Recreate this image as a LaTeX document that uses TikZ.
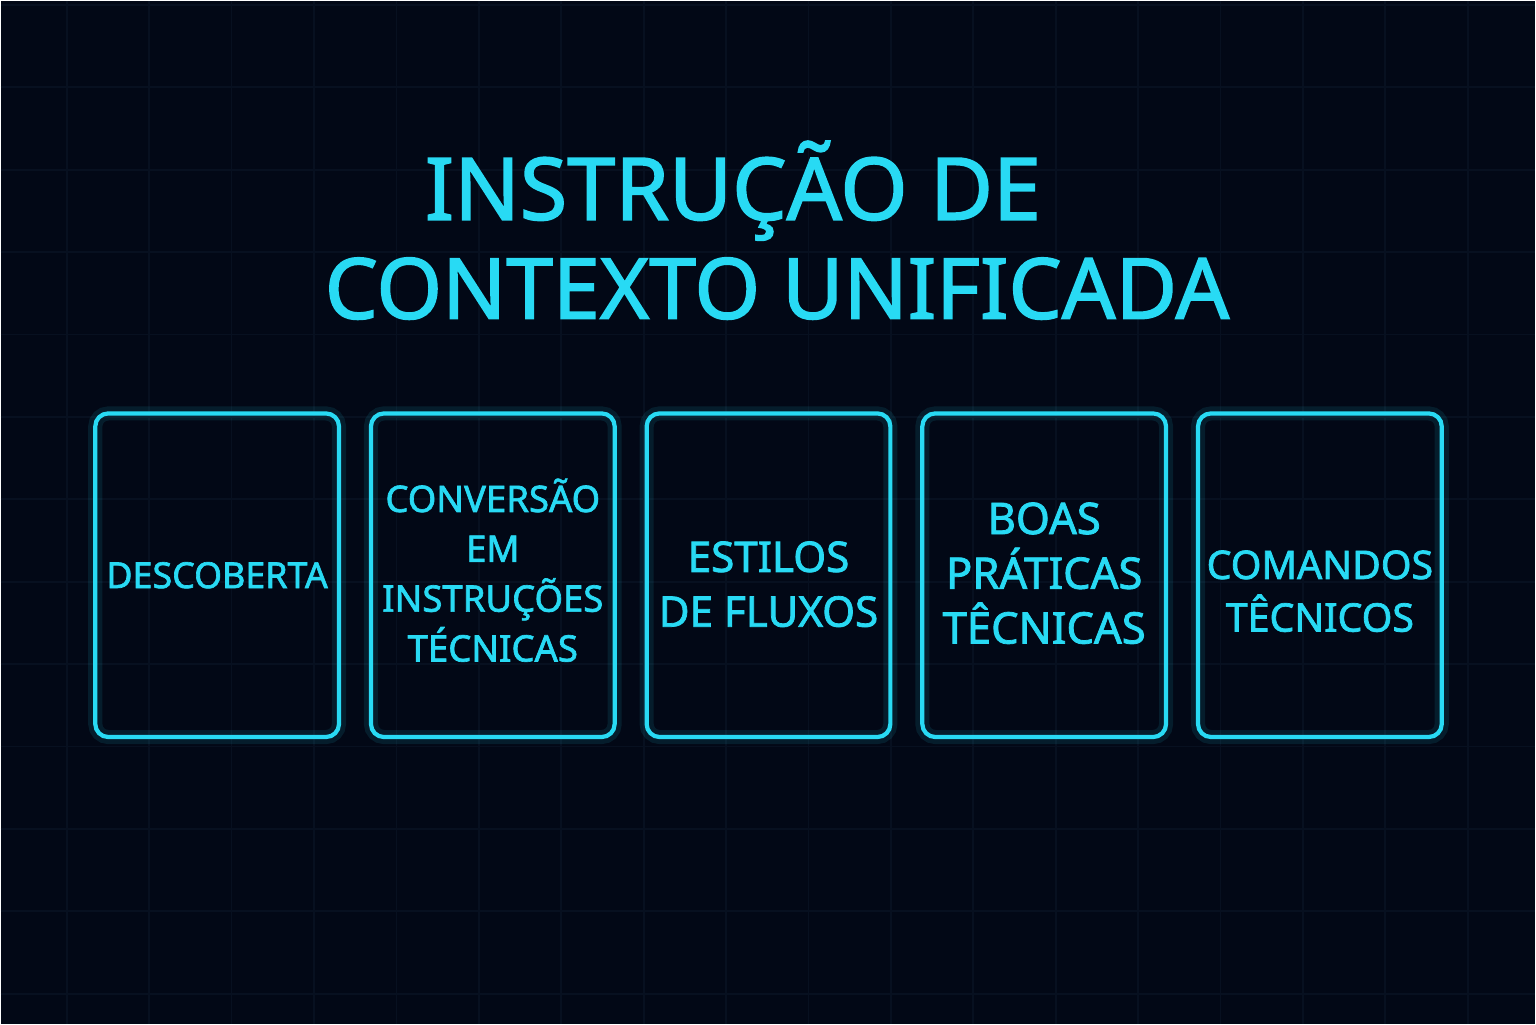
\documentclass[tikz,border=0pt]{standalone}
\usepackage{fontspec}
\setmainfont{Noto Sans}[AutoFakeBold=1.8]
\usetikzlibrary{positioning}
\definecolor{fundo}{RGB}{2,8,22}
\definecolor{grade}{RGB}{7,16,32}
\definecolor{neon}{RGB}{40,218,244}

\begin{document}
\begin{tikzpicture}[
  titulo/.style={text=neon, font=\fontsize{24}{30}\selectfont\bfseries, inner sep=0pt},
  cartao/.style={draw=neon, line width=1.2pt, rounded corners=0.13cm,
    minimum width=2.44cm, minimum height=3.24cm, inner sep=0pt, outer sep=0pt,
    preaction={draw=neon, line width=4pt, opacity=0.10}},
  rotulo/.style={text=neon, align=center, inner sep=0pt,
    font=\fontsize{10.4}{14.2}\selectfont\bfseries}]

% fundo com grade
\fill[fundo] (0,0) rectangle (15.36,10.24);
\draw[grade, line width=0.5pt, xshift=0.66cm, yshift=0.30cm, step=0.825cm] (-0.66,-0.30) grid (14.70,9.94);
\useasboundingbox (0,0) rectangle (15.36,10.24);

% titulo
\node[titulo, font=\fontsize{24.6}{30}\selectfont\bfseries] (t1) at (7.33,8.34) {INSTRUÇÃO DE};
\node[titulo] (t2) at (7.77,7.36) {CONTEXTO UNIFICADA};

% cartoes
\node[cartao] (c1) at (2.165,4.49) {};
\node[cartao, right=0.32cm of c1] (c2) {};
\node[cartao, right=0.32cm of c2] (c3) {};
\node[cartao, right=0.32cm of c3] (c4) {};
\node[cartao, right=0.32cm of c4] (c5) {};

% textos dos cartoes
\node[rotulo, font=\fontsize{10.2}{14.2}\selectfont\bfseries] (r1) at (c1) {DESCOBERTA};
\node[rotulo, yshift=0.05cm] (r2) at (c2) {CONVERSÃO\\EM\\INSTRUÇÕES\\TÉCNICAS};
\node[rotulo, yshift=-0.09cm, font=\fontsize{12}{15.6}\selectfont\bfseries] (r3) at (c3) {ESTILOS\\DE FLUXOS};
\node[rotulo, yshift=0.02cm, font=\fontsize{12.4}{15.6}\selectfont\bfseries] (r4) at (c4) {BOAS\\PRÁTICAS\\TÊCNICAS};
\node[rotulo, yshift=-0.16cm, font=\fontsize{11.2}{15}\selectfont\bfseries] (r5) at (c5) {COMANDOS\\TÊCNICOS};

\end{tikzpicture}
\end{document}
